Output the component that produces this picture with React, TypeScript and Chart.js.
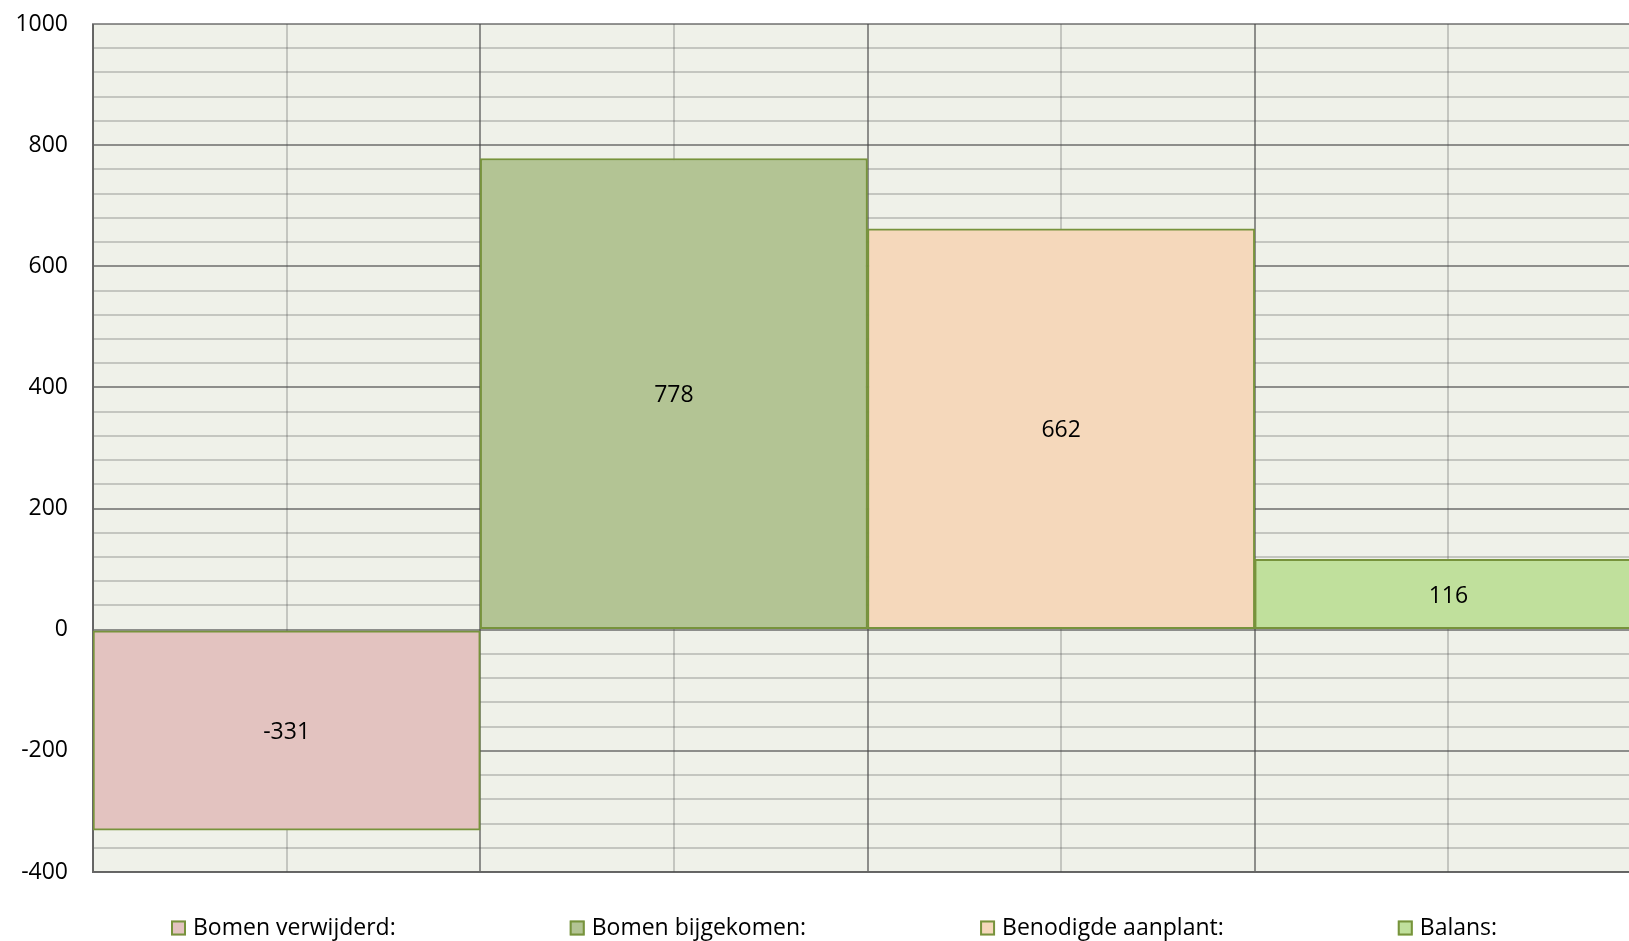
import React, { useEffect, useRef } from "react";
import { Chart, registerables } from "chart.js";

Chart.register(...registerables);

// ---- data ----
const categories = ["Bomen verwijderd:", "Bomen bijgekomen:", "Benodigde aanplant:", "Balans:"];
const values = [-331, 778, 662, 116];
const barColors = ["#e3c3c0", "#b3c494", "#f5d8bb", "#c0e09c"];
const yMin = -400;
const yMax = 1000;
const yMinorStep = 40;
const yLabelStep = 200;

// ---- styles ----
const FONT = "'Open Sans', 'DejaVu Sans', sans-serif";
const BORDER = "#77933c";
const PLOT_BG = "#eff1e9";
const MAJOR = "rgba(70,70,70,0.58)";
const MINOR = "rgba(80,80,80,0.27)";

const bgPlugin = {
  id: "plotBg",
  beforeDraw(chart: any) {
    const { ctx, chartArea } = chart;
    const { left, top, right, bottom } = chartArea;
    ctx.save();
    ctx.fillStyle = PLOT_BG;
    ctx.fillRect(left, top, right - left, bottom - top);
    ctx.restore();
  },
};

const valueLabelPlugin = {
  id: "valueLabels",
  afterDraw(chart: any) {
    const { ctx } = chart;
    const meta = chart.getDatasetMeta(0);
    ctx.save();
    ctx.font = `23px ${FONT}`;
    ctx.fillStyle = "#000";
    ctx.textAlign = "center";
    ctx.textBaseline = "middle";
    meta.data.forEach((el: any, i: number) => {
      const { x, y, base } = el.getProps(["x", "y", "base"], true);
      ctx.fillText(String(values[i]), x, (y + base) / 2 + 2);
    });
    ctx.restore();
  },
};

const legendPlugin = {
  id: "bottomLegend",
  afterDraw(chart: any) {
    const { ctx, chartArea } = chart;
    const cy = chartArea.bottom + 56;
    const box = 15;
    const textGap = 7;
    const itemGap = 174;
    let x = 171;
    ctx.save();
    ctx.font = `23px ${FONT}`;
    ctx.textBaseline = "middle";
    ctx.textAlign = "left";
    categories.forEach((label, i) => {
      ctx.fillStyle = barColors[i];
      ctx.fillRect(x, cy - box / 2, box, box);
      ctx.strokeStyle = BORDER;
      ctx.lineWidth = 2;
      ctx.strokeRect(x + 1, cy - box / 2 + 1, box - 2, box - 2);
      ctx.fillStyle = "#000";
      ctx.fillText(label, x + box + textGap, cy);
      const w = ctx.measureText(label).width;
      x += box + textGap + w + itemGap;
    });
    ctx.restore();
  },
};

export default function App() {
  const ref = useRef<HTMLCanvasElement>(null);
  useEffect(() => {
    document.body.style.margin = "0";
    document.body.style.overflow = "hidden";
    const canvas = ref.current!;
    const chart = new Chart(canvas, {
      type: "bar",
      data: {
        labels: categories,
        datasets: [
          {
            data: values,
            backgroundColor: barColors,
            borderColor: BORDER,
            borderWidth: 2,
            borderSkipped: false,
            categoryPercentage: 1,
            barPercentage: 1,
          },
        ],
      },
      options: {
        responsive: false,
        animation: false,
        devicePixelRatio: 1,
        layout: { padding: { top: 24, right: 8, bottom: 69, left: 0 } },
        plugins: { legend: { display: false }, tooltip: { enabled: false } },
        scales: {
          x: {
            type: "category",
            offset: true,
            z: 1,
            ticks: { display: false },
            grid: { offset: true, color: MAJOR, lineWidth: 2, drawTicks: false },
            border: { display: true, color: MAJOR, width: 2 },
          },
          x2: {
            type: "category",
            axis: "x",
            position: "bottom",
            offset: true,
            z: 1,
            ticks: { display: false },
            grid: { offset: false, color: MINOR, lineWidth: 2, drawTicks: false },
            border: { display: false },
          },
          y: {
            type: "linear",
            min: yMin,
            max: yMax,
            z: 1,
            afterFit: (s: any) => {
              s.width = 93;
            },
            ticks: {
              stepSize: yMinorStep,
              autoSkip: false,
              padding: 0,
              color: "#000",
              font: { family: FONT, size: 23 },
              callback: (v: any) => (Number(v) % yLabelStep === 0 ? String(v) : ""),
            },
            grid: {
              color: (c: any) => (c.tick && c.tick.value % yLabelStep === 0 ? MAJOR : MINOR),
              lineWidth: 2,
              drawTicks: true,
              tickLength: 25,
              tickColor: "rgba(0,0,0,0)",
            },
            border: { color: MAJOR, width: 2 },
          },
        },
      } as any,
      plugins: [bgPlugin, valueLabelPlugin, legendPlugin],
    });
    return () => chart.destroy();
  }, []);
  return (
    <div
      style={{
        position: "fixed",
        left: 0,
        top: 0,
        width: 1629,
        height: 941,
        overflow: "hidden",
        background: "#fff",
      }}
    >
      <canvas ref={ref} width={1650} height={941} style={{ display: "block" }} />
    </div>
  );
}
